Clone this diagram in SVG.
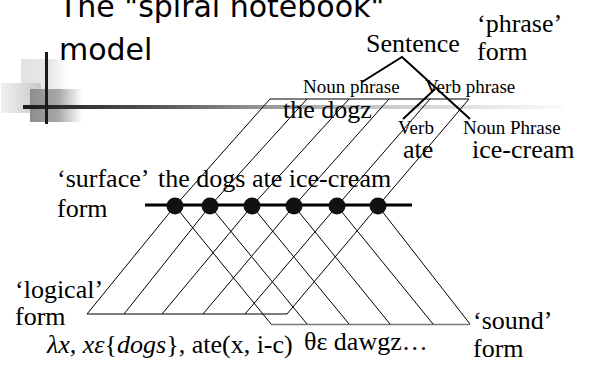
<svg xmlns="http://www.w3.org/2000/svg" width="590" height="368" viewBox="0 0 590 368">
<defs>
<linearGradient id="gLine" x1="0" y1="0" x2="1" y2="0">
<stop offset="0" stop-color="#1a1a1a"/>
<stop offset="0.25" stop-color="#555"/>
<stop offset="0.45" stop-color="#999"/>
<stop offset="0.7" stop-color="#d0d0d0"/>
<stop offset="1" stop-color="#fafafa"/>
</linearGradient>
<linearGradient id="gSq1" x1="0" y1="0" x2="1" y2="0">
<stop offset="0" stop-color="#e2e2e2"/>
<stop offset="0.6" stop-color="#e8e8e8"/>
<stop offset="1" stop-color="#ffffff"/>
</linearGradient>
<linearGradient id="gSq2" x1="0" y1="0" x2="1" y2="0">
<stop offset="0" stop-color="#f0f0f0"/>
<stop offset="1" stop-color="#c8c8c8"/>
</linearGradient>
<linearGradient id="gSq3" x1="0" y1="0" x2="1" y2="0">
<stop offset="0" stop-color="#8c8c8c"/>
<stop offset="0.55" stop-color="#a8a8a8"/>
<stop offset="1" stop-color="#ffffff"/>
</linearGradient>
<style>
.s{font-family:"Liberation Serif","Times New Roman",serif;fill:#000}
.big{font-size:26px}
.sm{font-size:19px}
.t{font-family:"DejaVu Sans",Verdana,sans-serif;font-size:30px;fill:#000}
.g{stroke:#000;stroke-width:1;fill:none}
.tr{stroke:#000;stroke-width:2;fill:none}
</style>
</defs>
<rect width="590" height="368" fill="#fff"/>

<g id="logo">
<rect x="21" y="59" width="48" height="33" fill="url(#gSq1)"/>
<rect x="1" y="83" width="40" height="30" fill="url(#gSq2)"/>
<rect x="30" y="89" width="52" height="33" fill="url(#gSq3)"/>
<rect x="23" y="105" width="540" height="4" fill="url(#gLine)"/>
<rect x="45" y="52" width="3" height="72" fill="#1a1a1a"/>
</g>

<g id="title">
<text class="t" x="59" y="17">The "spiral notebook"</text>
<text class="t" x="59" y="60">model</text>
</g>

<g id="connectors">
<line class="g" x1="270" y1="99" x2="469" y2="99"/>
<line class="g" x1="87" y1="314" x2="287" y2="314"/>
<line x1="271" y1="324.5" x2="470" y2="324.5" stroke="#777" stroke-width="1.5"/>
<polyline class="g" points="270,99 175,206 87,314"/>
<polyline class="g" points="307,99 210,206 124,314"/>
<polyline class="g" points="349,99 252,206 162,314"/>
<polyline class="g" points="389,99 294,206 203,314"/>
<polyline class="g" points="430,99 337,206 245,314"/>
<polyline class="g" points="469,99 378,206 287,314"/>
<line class="g" x1="175" y1="206" x2="271" y2="324"/>
<line class="g" x1="210" y1="206" x2="307" y2="324"/>
<line class="g" x1="252" y1="206" x2="349" y2="324"/>
<line class="g" x1="294" y1="206" x2="390" y2="324"/>
<line class="g" x1="337" y1="206" x2="433" y2="324"/>
<line class="g" x1="378" y1="206" x2="470" y2="324"/>
<line x1="145" y1="205" x2="412" y2="205" stroke="#000" stroke-width="3"/>
<polyline class="tr" points="362,82 402,57 470,119"/>
<line class="tr" x1="435" y1="89" x2="403" y2="119"/>
</g>

<g id="dots" fill="#111">
<circle cx="175" cy="206" r="8.5"/>
<circle cx="210" cy="206" r="8.5"/>
<circle cx="252" cy="206" r="8.5"/>
<circle cx="294" cy="206" r="8.5"/>
<circle cx="337" cy="206" r="8.5"/>
<circle cx="378" cy="206" r="8.5"/>
</g>

<g id="phrase-form">
<text class="s big" x="477" y="32">‘phrase’</text>
<text class="s big" x="477" y="60">form</text>
<text class="s big" x="366" y="52">Sentence</text>
<text class="s sm" x="303" y="93">Noun phrase</text>
<text class="s sm" x="425" y="93">Verb phrase</text>
<text class="s big" x="283" y="118">the dogz</text>
<text class="s sm" x="398" y="134">Verb</text>
<text class="s sm" x="463" y="134">Noun Phrase</text>
<text class="s big" x="403" y="158">ate</text>
<text class="s big" x="472" y="158">ice-cream</text>
</g>

<g id="surface-form">
<text class="s big" x="57" y="187">‘surface’</text>
<text class="s big" x="158" y="187">the dogs ate ice-cream</text>
<text class="s big" x="57" y="217">form</text>
</g>

<g id="logical-form">
<text class="s big" x="15" y="298">‘logical’</text>
<text class="s big" x="15" y="325">form</text>
<text class="s big" x="47" y="353"><tspan font-style="italic">λx, xε</tspan>{<tspan font-style="italic">dogs</tspan>},  ate(x, i-c)</text>
</g>

<g id="sound-form">
<text class="s big" x="304" y="350">θε dawgz…</text>
<text class="s big" x="473" y="329">‘sound’</text>
<text class="s big" x="473" y="357">form</text>
</g>
</svg>
